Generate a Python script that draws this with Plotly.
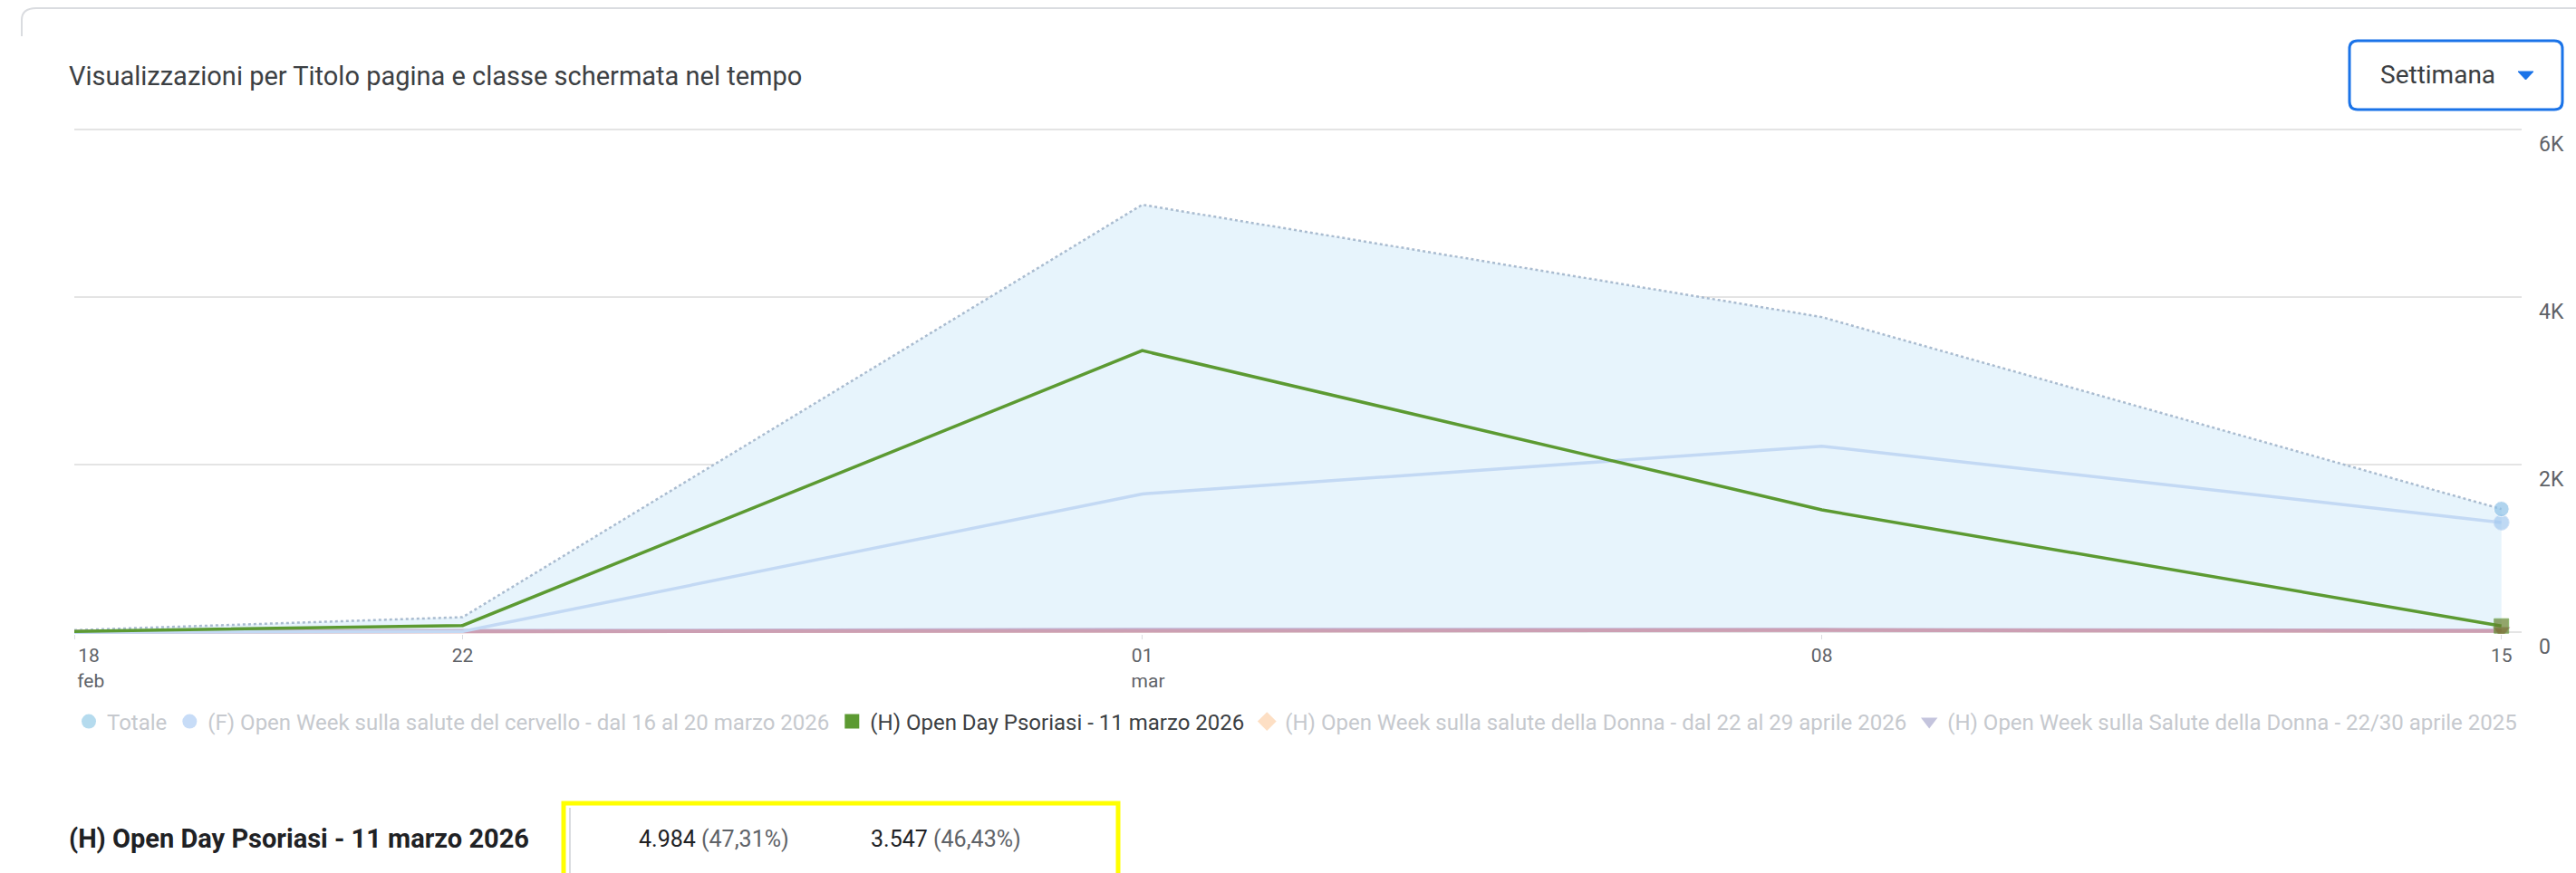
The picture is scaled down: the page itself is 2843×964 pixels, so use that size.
import plotly.graph_objects as go

# ---------------- data ----------------
dates = ["2026-02-18", "2026-02-22", "2026-03-01", "2026-03-08", "2026-03-15"]
tick_labels = [
    "\u2003\u200218<br>\u2003\u2002\u2009feb",
    "22",
    "01<br>\u2009\u2009\u2009mar",
    "08",
    "15",
]

totale = [25, 180, 5100, 3760, 1470]
open_week_cervello = [0, 10, 1650, 2220, 1310]
open_day_psoriasi = [10, 80, 3360, 1460, 75]
open_week_donna_2026 = [0, 5, 15, 20, 10]
open_week_donna_2025 = [10, 20, 30, 30, 20]
altro = [5, 10, 20, 25, 15]

y_tick_vals = [0, 2000, 4000, 6000]
y_tick_text = ["0", "2K", "4K", "6K"]

series_names = [
    "Totale",
    "(F) Open Week sulla salute del cervello - dal 16 al 20 marzo 2026",
    "(H) Open Day Psoriasi - 11 marzo 2026",
    "(H) Open Week sulla salute della Donna - dal 22 al 29 aprile 2026",
    "(H) Open Week sulla Salute della Donna - 22/30 aprile 2025",
]

table_label = "(H) Open Day Psoriasi - 11 marzo 2026"
table_val1, table_pct1 = "4.984", "(47,31%)"
table_val2, table_pct2 = "3.547", "(46,43%)"

title = "Visualizzazioni per Titolo pagina e classe schermata nel tempo"

# ---------------- layout helpers ----------------
W, H = 2843, 964
L, R, T, B = 82, 60, 140, 264
PW = W - L - R
PH = H - T - B


def px(x):
    return (x - L) / PW


def py(y):
    return (H - B - y) / PH


FONT = "Roboto, Arial, sans-serif"
GREY_TXT = "#5f6368"
DARK_TXT = "#3c4043"
FADED_TXT = "#c6c9ce"

end_only = [0, 0, 0, 0, 1]

fig = go.Figure()

# Totale area (dotted)
fig.add_trace(go.Scatter(
    x=dates, y=totale, mode="lines",
    line=dict(color="#aabcd0", width=2.5, dash="dot"),
    fill="tozeroy", fillcolor="#e7f4fc",
    showlegend=False, hoverinfo="skip"))

# baseline series
fig.add_trace(go.Scatter(
    x=dates, y=open_week_donna_2026, mode="lines",
    line=dict(color="#f3d9c6", width=3), showlegend=False, hoverinfo="skip"))
fig.add_trace(go.Scatter(
    x=dates, y=open_week_donna_2025, mode="lines",
    line=dict(color="#c2b6d6", width=4), showlegend=False, hoverinfo="skip"))
fig.add_trace(go.Scatter(
    x=dates, y=altro, mode="lines+markers",
    line=dict(color="#cc9fb3", width=4),
    marker=dict(symbol="triangle-down", color="#b9505c", size=[s * 16 for s in end_only]),
    showlegend=False, hoverinfo="skip"))

# F series
fig.add_trace(go.Scatter(
    x=dates, y=open_week_cervello, mode="lines+markers",
    line=dict(color="#c3d9f4", width=3.5),
    marker=dict(symbol="circle", color="#a5caf0", size=[s * 17 for s in end_only]),
    showlegend=False, hoverinfo="skip"))

# Totale end marker
fig.add_trace(go.Scatter(
    x=dates, y=totale, mode="markers",
    marker=dict(symbol="circle", color="#8fc3e8", size=[s * 17 for s in end_only]),
    showlegend=False, hoverinfo="skip"))

# Psoriasi (highlighted)
fig.add_trace(go.Scatter(
    x=dates, y=open_day_psoriasi, mode="lines+markers",
    line=dict(color="#5c9a32", width=3.5),
    marker=dict(symbol="square", color="#647f2c", size=[s * 16 for s in end_only]),
    showlegend=False, hoverinfo="skip"))

# legend entries (symbols only)
legend_symbols = ["circle", "circle", "square", "diamond", "triangle-down"]
legend_colors = ["#b5dbee", "#c7dcf7", "#5c9a32", "#fddfc4", "#c4c4dd"]
legend_active = [False, False, True, False, False]
for name, sym, col, act in zip(series_names, legend_symbols, legend_colors, legend_active):
    label = name if act else f'<span style="color:{FADED_TXT}">{name}</span>'
    fig.add_trace(go.Scatter(
        x=[None], y=[None], mode="markers", name=label,
        marker=dict(symbol=sym, color=col, size=16)))

shapes = []
# card top border
shapes.append(dict(
    type="path", xref="paper", yref="paper",
    path=f"M {px(24)} {py(40)} L {px(24)} {py(22)} Q {px(24)} {py(9)} {px(40)} {py(9)} L {px(2843)} {py(9)}",
    line=dict(color="#dadce0", width=2)))

# dropdown rounded box
x0, x1, y0, y1, r = 2593, 2828, 45, 121, 9
shapes.append(dict(
    type="path", xref="paper", yref="paper",
    path=(f"M {px(x0 + r)} {py(y0)} L {px(x1 - r)} {py(y0)} Q {px(x1)} {py(y0)} {px(x1)} {py(y0 + r)} "
          f"L {px(x1)} {py(y1 - r)} Q {px(x1)} {py(y1)} {px(x1 - r)} {py(y1)} "
          f"L {px(x0 + r)} {py(y1)} Q {px(x0)} {py(y1)} {px(x0)} {py(y1 - r)} "
          f"L {px(x0)} {py(y0 + r)} Q {px(x0)} {py(y0)} {px(x0 + r)} {py(y0)} Z"),
    line=dict(color="#1a73e8", width=3), fillcolor="white"))
# dropdown caret
shapes.append(dict(
    type="path", xref="paper", yref="paper",
    path=f"M {px(2779)} {py(79)} L {px(2796)} {py(79)} L {px(2787.5)} {py(88)} Z",
    line=dict(color="#1a73e8", width=1), fillcolor="#1a73e8"))

# table separator
shapes.append(dict(
    type="line", xref="paper", yref="paper",
    x0=px(629), x1=px(629), y0=py(892), y1=py(975),
    line=dict(color="#dadce0", width=2)))
# yellow highlight box (open at bottom)
shapes.append(dict(
    type="path", xref="paper", yref="paper",
    path=f"M {px(622)} {py(980)} L {px(622)} {py(887)} L {px(1234)} {py(887)} L {px(1234)} {py(980)}",
    line=dict(color="#ffff00", width=5)))

annotations = [
    dict(text=title, x=px(74), y=py(84), xref="paper", yref="paper",
         xanchor="left", yanchor="middle", showarrow=False,
         font=dict(family=FONT, size=29, color=DARK_TXT)),
    dict(text="Settimana", x=px(2690), y=py(83), xref="paper", yref="paper",
         xanchor="center", yanchor="middle", showarrow=False,
         font=dict(family=FONT, size=28, color=DARK_TXT)),
    dict(text=table_label, x=px(74), y=py(926), xref="paper", yref="paper",
         xanchor="left", yanchor="middle", showarrow=False,
         font=dict(family=FONT, size=29, color="#202124", weight=700)),
    dict(text=f'{table_val1} <span style="color:{GREY_TXT}">{table_pct1}</span>',
         x=px(703), y=py(926), xref="paper", yref="paper",
         xanchor="left", yanchor="middle", showarrow=False,
         font=dict(family=FONT, size=25, color="#202124")),
    dict(text=f'{table_val2} <span style="color:{GREY_TXT}">{table_pct2}</span>',
         x=px(959), y=py(926), xref="paper", yref="paper",
         xanchor="left", yanchor="middle", showarrow=False,
         font=dict(family=FONT, size=25, color="#202124")),
]

fig.update_layout(
    width=W, height=H,
    margin=dict(l=L, r=R, t=T, b=B),
    paper_bgcolor="white", plot_bgcolor="white",
    font=dict(family=FONT, color=DARK_TXT),
    shapes=shapes, annotations=annotations,
    legend=dict(orientation="h", x=px(78), y=py(797), xanchor="left", yanchor="middle",
                font=dict(family=FONT, size=24, color=DARK_TXT),
                bgcolor="rgba(0,0,0,0)", itemclick=False, itemdoubleclick=False),
    xaxis=dict(type="date", range=["2026-02-18", "2026-03-15 05:00"],
               tickvals=dates, ticktext=tick_labels,
               ticks="outside", ticklen=5, tickcolor="#dadce0", tickwidth=1,
               showgrid=False, showline=False, zeroline=False,
               tickfont=dict(family=FONT, size=21, color=GREY_TXT)),
    yaxis=dict(side="right", range=[-20, 6030], tickvals=y_tick_vals, ticktext=y_tick_text,
               showgrid=True, gridcolor="#e4e4e4", gridwidth=1.5, zeroline=False, showline=False,
               ticks="", ticklabelshift=16, ticklabelstandoff=18,
               tickfont=dict(family=FONT, size=23, color=GREY_TXT)),
    hovermode=False,
)

fig.write_html("out.html", config={"displayModeBar": False},
               post_script="document.body.style.margin='0';")
